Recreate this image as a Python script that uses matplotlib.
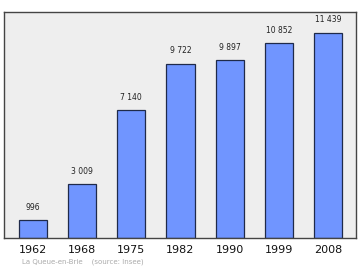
import matplotlib
matplotlib.use("Agg")
import matplotlib.pyplot as plt
from matplotlib.patches import FancyBboxPatch

years = ["1962", "1968", "1975", "1982", "1990", "1999", "2008"]
population = [996, 3009, 7140, 9722, 9897, 10852, 11439]
value_labels = ["996", "3 009", "7 140", "9 722", "9 897", "10 852", "11 439"]

fig = plt.figure(figsize=(3.6, 2.7), dpi=100)
ax = fig.add_axes([4 / 360, 1 - 238 / 270, 352 / 360, 226 / 270])
ax.set_facecolor("#eeeeee")

bars = ax.bar(range(len(years)), population, width=0.57,
              color="#7095ff", edgecolor="#1f2a4a", linewidth=0.9)

for b, lab in zip(bars, value_labels):
    ax.annotate(lab, (b.get_x() + b.get_width() / 2, b.get_height()),
                xytext=(0, 6), textcoords="offset points",
                ha="center", va="bottom", fontsize=5.5, color="#222222")

ax.set_xlim(-0.59, 6.57)
ax.set_ylim(0, 12600)
ax.set_xticks(range(len(years)))
ax.set_xticklabels(years, fontsize=8, color="#111111")
ax.tick_params(axis="x", length=0, pad=5)
ax.set_yticks([])
for s in ax.spines.values():
    s.set_color("#444444")
    s.set_linewidth(1.0)

fig.text(22 / 360, 1 - 262 / 270, "La Queue-en-Brie    (source: Insee)",
         fontsize=5, color="#aaaaaa", va="center", ha="left")

fig.savefig("out.png", dpi=100)
